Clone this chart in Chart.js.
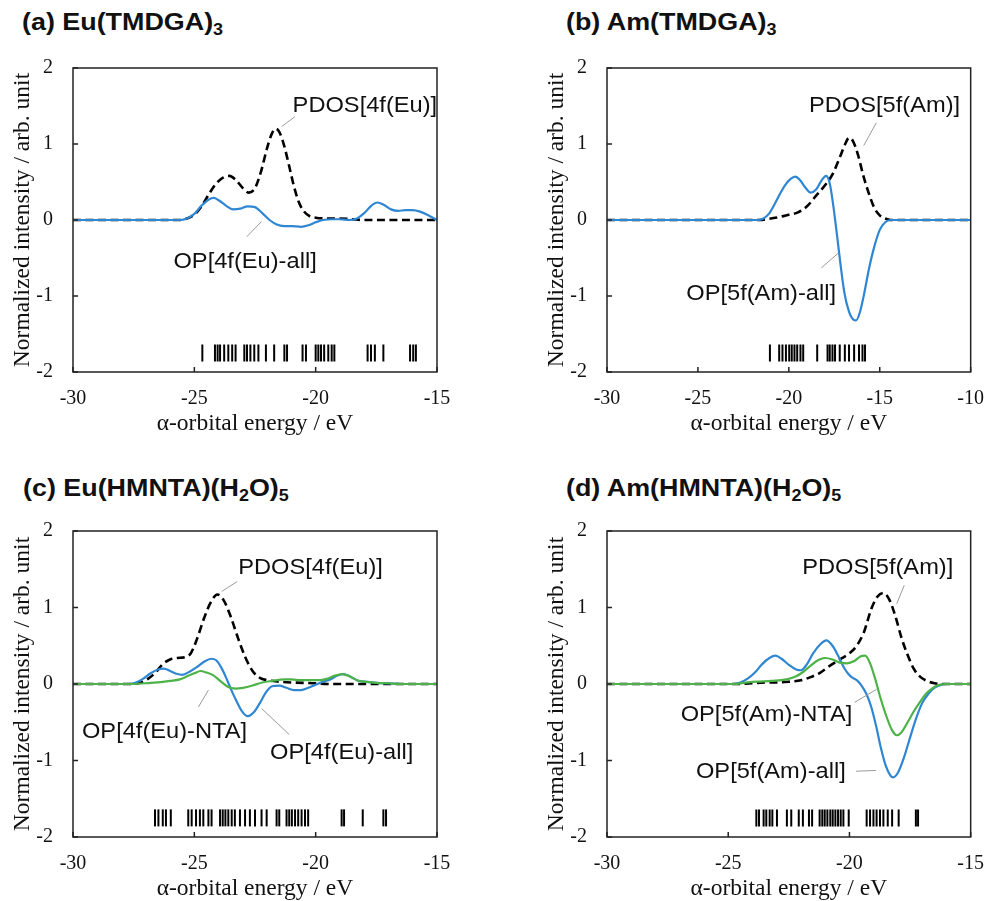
<!DOCTYPE html>
<html>
<head>
<meta charset="utf-8">
<script src="https://cdn.jsdelivr.net/npm/chart.js@4.4.0/dist/chart.umd.min.js"></script>
<style>
  body { margin: 0; background: #fff; width: 986px; height: 901px; overflow: hidden; position: relative;
         font-family: "Liberation Sans", Arial, sans-serif; color: #111; }
  .panel { position: absolute; }
  .ttl { position: absolute; font-weight: bold; font-size: 24px; line-height: 1; white-space: nowrap;
         transform: scaleX(1.12); transform-origin: left center; }
  .ttl sub { font-size: 16px; vertical-align: -5px; line-height: 0; }
</style>
</head>
<body>
<div class="ttl" style="left:22px;top:10px">(a) Eu(TMDGA)<sub>3</sub></div>
<div class="ttl" style="left:566px;top:10px">(b) Am(TMDGA)<sub>3</sub></div>
<div class="ttl" style="left:23px;top:476px">(c) Eu(HMNTA)(H<sub>2</sub>O)<sub>5</sub></div>
<div class="ttl" style="left:566px;top:476px">(d) Am(HMNTA)(H<sub>2</sub>O)<sub>5</sub></div>

<div class="panel" style="left:0;top:0;width:493px;height:436px"><canvas id="ca"></canvas></div>
<div class="panel" style="left:534px;top:0;width:465px;height:436px"><canvas id="cb"></canvas></div>
<div class="panel" style="left:0;top:463px;width:493px;height:438px"><canvas id="cc"></canvas></div>
<div class="panel" style="left:534px;top:463px;width:465px;height:438px"><canvas id="cd"></canvas></div>

<script>
// (a) Eu(TMDGA)3
const aPdos = [[-30,0],[-26,0],[-25.6,0],[-25.3,0.02],[-25,0.07],[-24.7,0.18],[-24.4,0.34],[-24.1,0.48],[-23.8,0.56],
  [-23.55,0.58],[-23.3,0.53],[-23,0.42],[-22.75,0.36],[-22.5,0.42],[-22.25,0.64],[-22,0.95],[-21.8,1.14],[-21.65,1.2],
  [-21.5,1.16],[-21.3,0.98],[-21.1,0.72],[-20.9,0.45],[-20.7,0.24],[-20.5,0.12],[-20.25,0.05],[-20,0.03],[-19.5,0.02],
  [-19,0.02],[-18.5,0.01],[-18,0],[-15,0]]
const aOpAll = [[-30,0],[-25.6,0],[-25.3,0.02],[-25,0.08],[-24.7,0.19],[-24.4,0.27],[-24.2,0.29],[-24,0.26],[-23.7,0.19],
  [-23.4,0.14],[-23.1,0.15],[-22.8,0.18],[-22.5,0.17],[-22.2,0.09],[-21.9,0.0],[-21.6,-0.06],[-21.3,-0.08],[-21,-0.08],
  [-20.6,-0.09],[-20.3,-0.07],[-20,-0.03],[-19.7,0.0],[-19.3,0.01],[-19,0.01],[-18.6,0.0],[-18.3,0.02],[-18,0.09],
  [-17.7,0.19],[-17.45,0.23],[-17.2,0.2],[-16.9,0.14],[-16.6,0.12],[-16.3,0.13],[-16,0.13],[-15.7,0.11],[-15.4,0.07],[-15,0.0]]
const aLevels = [-24.67,-24.15,-24.04,-23.94,-23.77,-23.6,-23.44,-23.3,-22.94,-22.83,-22.69,-22.53,-22.36,-22.05,
  -21.71,-21.29,-21.18,-20.54,-20.4,-20.0,-19.89,-19.78,-19.65,-19.48,-19.34,-19.23,-17.86,-17.72,-17.56,-17.21,
  -16.11,-15.98,-15.87]

// (b) Am(TMDGA)3
const bPdos = [[-30,0],[-22,0],[-21.6,0],[-21,0.02],[-20.5,0.04],[-20,0.07],[-19.5,0.1],[-19,0.18],[-18.5,0.32],
  [-18,0.46],[-17.6,0.6],[-17.2,0.82],[-16.9,1.0],[-16.7,1.08],[-16.5,1.05],[-16.2,0.86],[-15.9,0.58],[-15.6,0.35],
  [-15.3,0.16],[-15,0.06],[-14.7,0.02],[-14.4,0],[-10,0]]
const bOpAll = [[-30,0],[-21.7,0],[-21.4,0.02],[-21.1,0.08],[-20.8,0.2],[-20.5,0.34],[-20.2,0.46],[-19.9,0.54],
  [-19.65,0.57],[-19.4,0.53],[-19.1,0.43],[-18.8,0.36],[-18.5,0.4],[-18.2,0.52],[-17.95,0.58],[-17.75,0.48],
  [-17.55,0.18],[-17.35,-0.2],[-17.15,-0.6],[-16.95,-0.95],[-16.7,-1.2],[-16.45,-1.31],[-16.3,-1.32],[-16.1,-1.22],
  [-15.85,-0.96],[-15.6,-0.65],[-15.3,-0.35],[-15.0,-0.13],[-14.7,-0.03],[-14.4,0],[-10,0]]
const bLevels = [-21.04,-20.53,-20.35,-20.16,-19.98,-19.84,-19.69,-19.54,-19.36,-19.21,-18.44,-17.87,-17.75,-17.6,
  -17.46,-17.2,-16.92,-16.69,-16.41,-16.14,-15.95,-15.81]

// (c) Eu(HMNTA)(H2O)5
const cPdos = [[-30,0],[-27.6,0],[-27.2,0.02],[-26.9,0.07],[-26.6,0.15],[-26.3,0.26],[-26,0.32],[-25.7,0.34],
  [-25.4,0.35],[-25.15,0.4],[-24.9,0.58],[-24.6,0.86],[-24.3,1.08],[-24.05,1.17],[-23.8,1.1],[-23.5,0.88],[-23.2,0.6],
  [-22.9,0.35],[-22.6,0.17],[-22.3,0.08],[-22,0.05],[-21.5,0.03],[-21,0.02],[-20,0.01],[-19.5,0],[-15,0]]
const cOpAll = [[-30,0],[-27.7,0],[-27.4,0.02],[-27.1,0.07],[-26.8,0.14],[-26.5,0.19],[-26.25,0.2],[-26,0.17],
  [-25.7,0.13],[-25.5,0.12],[-25.2,0.16],[-24.9,0.22],[-24.6,0.29],[-24.3,0.33],[-24.1,0.31],[-23.9,0.22],[-23.7,0.09],
  [-23.5,-0.06],[-23.3,-0.2],[-23.05,-0.35],[-22.8,-0.42],[-22.55,-0.37],[-22.3,-0.25],[-22.05,-0.11],[-21.8,-0.03],
  [-21.5,-0.02],[-21.2,-0.05],[-20.9,-0.08],[-20.6,-0.08],[-20.3,-0.05],[-20,-0.01],[-19.7,0.03],[-19.4,0.06],
  [-19.1,0.11],[-18.85,0.13],[-18.6,0.1],[-18.3,0.05],[-18,0.03],[-17.5,0.015],[-17,0.01],[-16.5,0],[-15,0]]
const cOpNta = [[-30,0],[-27.7,0],[-27,0.01],[-26.5,0.02],[-26,0.04],[-25.6,0.06],[-25.3,0.1],[-25,0.14],[-24.75,0.17],
  [-24.5,0.15],[-24.2,0.11],[-23.9,0.03],[-23.6,-0.04],[-23.3,-0.06],[-23,-0.05],[-22.6,-0.02],[-22.2,0.02],[-21.8,0.04],
  [-21.3,0.06],[-21,0.06],[-20.6,0.05],[-20.2,0.05],[-19.8,0.05],[-19.5,0.07],[-19.2,0.11],[-18.9,0.13],[-18.6,0.1],
  [-18.3,0.05],[-18,0.03],[-17.5,0.015],[-17,0.01],[-16.5,0],[-15,0]]
const cLevels = [-26.62,-26.48,-26.3,-26.17,-25.97,-25.25,-25.11,-24.93,-24.77,-24.63,-24.42,-24.29,-23.94,-23.83,
  -23.72,-23.6,-23.46,-23.33,-23.12,-22.91,-22.71,-22.5,-22.23,-22.02,-21.61,-21.5,-21.2,-21.09,-20.98,-20.85,-20.72,
  -20.58,-20.44,-20.31,-18.93,-18.83,-18.06,-17.21,-17.1]

// (d) Am(HMNTA)(H2O)5
const dPdos = [[-30,0],[-25,0],[-24.6,0],[-24,0.01],[-23.5,0.02],[-23,0.02],[-22.5,0.03],[-22,0.05],[-21.6,0.09],
  [-21.2,0.15],[-20.8,0.24],[-20.4,0.32],[-20,0.4],[-19.7,0.5],[-19.4,0.68],[-19.1,0.98],[-18.85,1.14],[-18.6,1.19],
  [-18.35,1.1],[-18.1,0.88],[-17.85,0.6],[-17.6,0.38],[-17.35,0.2],[-17.1,0.1],[-16.8,0.04],[-16.5,0.01],[-16.2,0],[-15,0]]
const dOpAll = [[-30,0],[-24.8,0],[-24.5,0.02],[-24.2,0.07],[-23.9,0.15],[-23.6,0.26],[-23.3,0.34],[-23.05,0.37],
  [-22.8,0.33],[-22.5,0.25],[-22.2,0.19],[-22,0.18],[-21.75,0.26],[-21.5,0.4],[-21.2,0.52],[-20.95,0.57],[-20.7,0.5],
  [-20.45,0.36],[-20.2,0.2],[-19.95,0.1],[-19.7,0.05],[-19.5,-0.02],[-19.3,-0.13],[-19.1,-0.3],[-18.9,-0.55],
  [-18.7,-0.84],[-18.5,-1.07],[-18.3,-1.2],[-18.2,-1.22],[-18.0,-1.16],[-17.75,-0.96],[-17.5,-0.7],[-17.25,-0.45],
  [-17.0,-0.25],[-16.75,-0.13],[-16.5,-0.05],[-16.2,-0.01],[-16,0],[-15,0]]
const dOpNta = [[-30,0],[-24.8,0],[-24.2,0.02],[-23.8,0.03],[-23.2,0.04],[-22.6,0.06],[-22.2,0.1],[-21.9,0.16],
  [-21.6,0.24],[-21.3,0.31],[-21,0.34],[-20.7,0.32],[-20.4,0.28],[-20.1,0.27],[-19.8,0.3],[-19.55,0.36],[-19.35,0.37],
  [-19.15,0.27],[-18.95,0.08],[-18.75,-0.15],[-18.5,-0.4],[-18.25,-0.6],[-18.05,-0.67],[-17.85,-0.63],[-17.6,-0.5],
  [-17.35,-0.36],[-17.1,-0.24],[-16.85,-0.13],[-16.6,-0.06],[-16.3,-0.01],[-16,0],[-15,0]]
const dLevels = [-23.84,-23.73,-23.54,-23.43,-23.29,-23.18,-22.99,-22.58,-22.4,-22.09,-21.92,-21.67,-21.54,-21.23,
  -21.12,-21.02,-20.91,-20.79,-20.69,-20.58,-20.47,-20.36,-20.25,-20.03,-19.29,-19.15,-19.01,-18.88,-18.74,-18.6,
  -18.42,-18.24,-17.97,-17.26,-17.17]

const BLUE = '#2f86d2'
const GREEN = '#4db349'
const SERIF = '"Liberation Serif", "Times New Roman", serif'
const SANS = '"Liberation Sans", Arial, sans-serif'

const pts = arr => arr.map(p => ({x: p[0], y: p[1]}))

// box, inner ticks and the callout labels
const frame = {
  id: 'frame',
  afterDraw(chart, args, opts) {
    const {ctx, chartArea: a, scales: {x, y}} = chart
    ctx.save()
    ctx.lineWidth = 1
    ctx.strokeStyle = '#9a9a9a'
    opts.notes.forEach(n => {
      ctx.beginPath()
      ctx.moveTo(x.getPixelForValue(n.line[0]), y.getPixelForValue(n.line[1]))
      ctx.lineTo(x.getPixelForValue(n.line[2]), y.getPixelForValue(n.line[3]))
      ctx.stroke()
      ctx.save()
      ctx.translate(x.getPixelForValue(n.x), y.getPixelForValue(n.y))
      ctx.scale(1.1, 1)
      ctx.font = '21.5px ' + SANS
      ctx.fillStyle = '#111'
      ctx.textBaseline = 'middle'
      ctx.fillText(n.text, 0, 0)
      ctx.restore()
    })
    ctx.strokeStyle = '#222'
    ctx.lineWidth = 1.5
    ctx.strokeRect(a.left, a.top, a.width, a.height)
    ctx.beginPath()
    x.ticks.forEach(t => {
      const px = x.getPixelForValue(t.value)
      ctx.moveTo(px, a.bottom); ctx.lineTo(px, a.bottom - 5)
    })
    y.ticks.forEach(t => {
      const py = y.getPixelForValue(t.value)
      ctx.moveTo(a.left, py); ctx.lineTo(a.left + 5, py)
    })
    ctx.stroke()
    ctx.restore()
  }
}

function makeChart(id, xmax, rightPad, pdos, opAll, opNta, levels, notes) {
  const datasets = [{
    data: levels.map(e => ({x: e, y: -1.75})),
    showLine: false, pointStyle: 'line', pointRotation: 90, pointRadius: 8.5,
    pointBorderWidth: 2, pointBorderColor: '#000', order: 4
  }, {
    data: pts(pdos), borderColor: '#000', borderWidth: 2.6, borderDash: [8, 4.5], order: 3
  }, {
    data: pts(opAll), borderColor: BLUE, borderWidth: 2.2, order: 2
  }]
  if (opNta) datasets.push({data: pts(opNta), borderColor: GREEN, borderWidth: 2.2, order: 1})
  datasets.forEach(d => {
    d.fill = false
    d.cubicInterpolationMode = 'monotone'
    if (d.pointStyle !== 'line') d.pointRadius = 0
  })

  return new Chart(document.getElementById(id), {
    type: 'line',
    data: {datasets},
    options: {
      responsive: true, maintainAspectRatio: false, animation: false, events: [],
      layout: {padding: {top: 68, right: rightPad, left: 0, bottom: 0}},
      plugins: {legend: {display: false}, tooltip: {enabled: false}, frame: {notes}},
      scales: {
        x: {
          type: 'linear', min: -30, max: xmax,
          ticks: {stepSize: 5, color: '#111', padding: 15, font: {family: SERIF, size: 20}},
          grid: {display: false, drawTicks: false}, border: {display: false},
          title: {display: true, text: 'α-orbital energy / eV', color: '#111',
                  font: {family: SERIF, size: 23.5, lineHeight: 1}, padding: {top: 0, bottom: 0}},
          afterFit: s => { s.height = 64 }
        },
        y: {
          type: 'linear', min: -2, max: 2,
          ticks: {stepSize: 1, color: '#111', padding: 20, font: {family: SERIF, size: 20}},
          grid: {display: false, drawTicks: false}, border: {display: false},
          title: {display: true, text: 'Normalized intensity / arb. unit', color: '#111',
                  font: {family: SERIF, size: 23.5, lineHeight: 1}, padding: {top: 11, bottom: 0}},
          afterFit: s => { s.width = 73 }
        }
      }
    },
    plugins: [frame]
  })
}

makeChart('ca', -15, 56, aPdos, aOpAll, null, aLevels, [
  {text: 'PDOS[4f(Eu)]', x: -20.95, y: 1.5, line: [-20.85, 1.36, -21.4, 1.23]},
  {text: 'OP[4f(Eu)-all]', x: -25.86, y: -0.55, line: [-22.84, -0.22, -22.23, -0.02]}
])
makeChart('cb', -10, 15, bPdos, bOpAll, null, bLevels, [
  {text: 'PDOS[5f(Am)]', x: -18.89, y: 1.5, line: [-15.19, 1.28, -15.88, 0.98]},
  {text: 'OP[5f(Am)-all]', x: -25.64, y: -0.98, line: [-18.21, -0.63, -17.3, -0.44]}
])
makeChart('cc', -15, 56, cPdos, cOpAll, cOpNta, cLevels, [
  {text: 'PDOS[4f(Eu)]', x: -23.19, y: 1.51, line: [-23.23, 1.34, -23.87, 1.21]},
  {text: 'OP[4f(Eu)-NTA]', x: -29.63, y: -0.63, line: [-24.83, -0.30, -24.42, -0.08]},
  {text: 'OP[4f(Eu)-all]', x: -21.88, y: -0.9, line: [-21.09, -0.66, -22.23, -0.32]}
])
makeChart('cd', -15, 15, dPdos, dOpAll, dOpNta, dLevels, [
  {text: 'PDOS[5f(Am)]', x: -21.95, y: 1.52, line: [-17.74, 1.29, -18.05, 1.05]},
  {text: 'OP[5f(Am)-NTA]', x: -26.96, y: -0.41, line: [-19.79, -0.24, -18.88, -0.07]},
  {text: 'OP[5f(Am)-all]', x: -26.33, y: -1.15, line: [-19.73, -1.14, -18.9, -1.13]}
])
</script>
</body>
</html>
